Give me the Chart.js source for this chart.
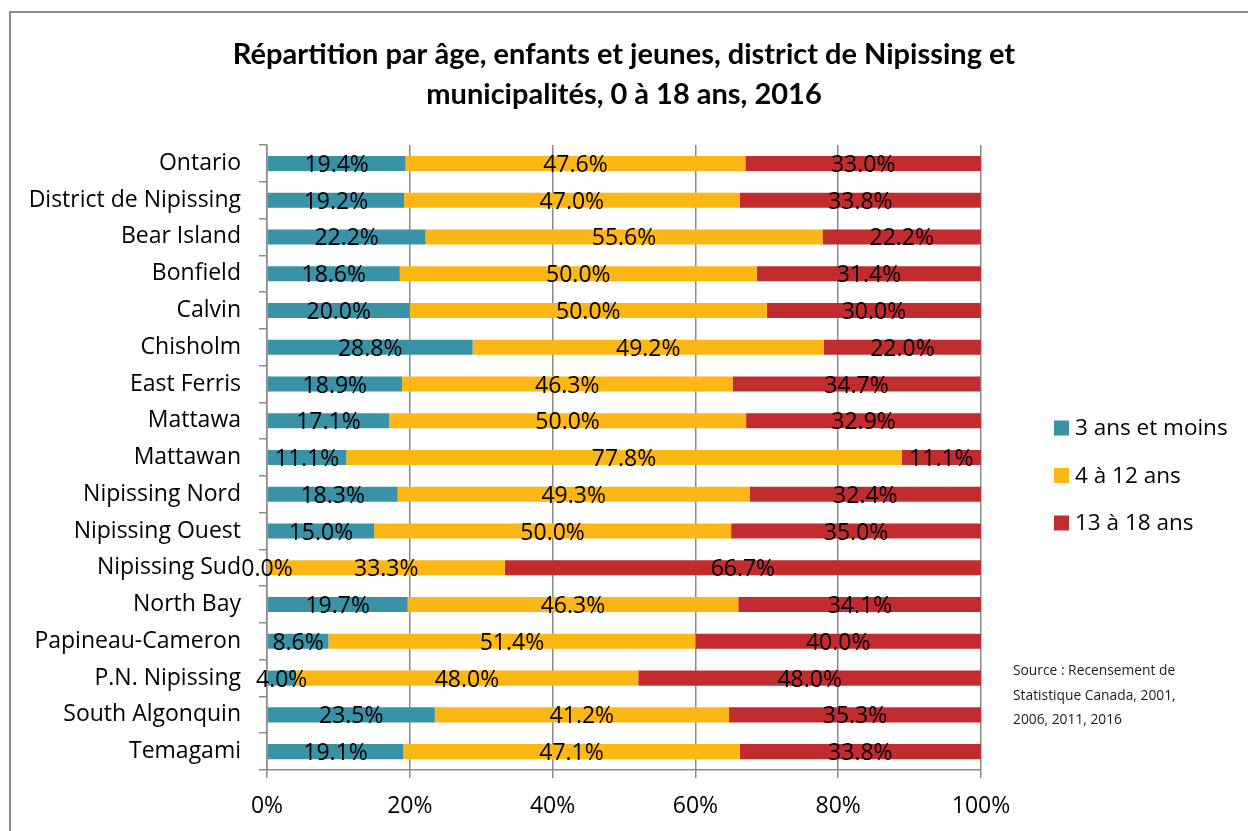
<!DOCTYPE html>
<html lang="fr">
<head>
<meta charset="utf-8">
<title>Répartition par âge, district de Nipissing</title>
<script src="https://cdn.jsdelivr.net/npm/chart.js@4/dist/chart.umd.min.js"></script>
<style>
  html, body { margin: 0; padding: 0; background: #fff; overflow: hidden; }
  #frame { position: absolute; left: 9px; top: 11px; width: 1400px; height: 1000px; border: 2px solid #8a8a8a; }
  #wrap { position: absolute; left: 0; top: 0; width: 1248px; height: 831px; }
  #source { position: absolute; left: 1013px; top: 658px; font: 13.8px "Open Sans", "Noto Sans", sans-serif; line-height: 24.5px; color: #1a1a1a; }
</style>
</head>
<body>
<div id="frame"></div>
<div id="wrap"><canvas id="chart" width="1248" height="831"></canvas></div>
<div id="source">Source : Recensement de<br>Statistique Canada, 2001,<br>2006, 2011, 2016</div>
<script>
  /* données (en %) */
  var categories = ['Ontario', 'District de Nipissing', 'Bear Island', 'Bonfield', 'Calvin', 'Chisholm',
    'East Ferris', 'Mattawa', 'Mattawan', 'Nipissing Nord', 'Nipissing Ouest', 'Nipissing Sud',
    'North Bay', 'Papineau-Cameron', 'P.N. Nipissing', 'South Algonquin', 'Temagami'];
  var seriesNames = ['3 ans et moins', '4 à 12 ans', '13 à 18 ans'];
  var ans0a3 = [19.4, 19.2, 22.2, 18.6, 20.0, 28.8, 18.9, 17.1, 11.1, 18.3, 15.0, 0.0, 19.7, 8.6, 4.0, 23.5, 19.1];
  var ans4a12 = [47.6, 47.0, 55.6, 50.0, 50.0, 49.2, 46.3, 50.0, 77.8, 49.3, 50.0, 33.3, 46.3, 51.4, 48.0, 41.2, 47.1];
  var ans13a18 = [33.0, 33.8, 22.2, 31.4, 30.0, 22.0, 34.7, 32.9, 11.1, 32.4, 35.0, 66.7, 34.1, 40.0, 48.0, 35.3, 33.8];
  var xTicks = [0, 20, 40, 60, 80, 100];

  var COLORS = ['#3a92a6', '#fdb714', '#c32c2f'];
  var FONT = '"Open Sans", "Noto Sans", sans-serif';
  var GRID = '#8a8a8a';

  /* étiquettes de valeur au centre de chaque segment */
  var valueLabels = {
    id: 'valueLabels',
    afterDatasetsDraw: function (chart) {
      var ctx = chart.ctx;
      ctx.save();
      ctx.font = '23px ' + FONT;
      ctx.fillStyle = '#000';
      ctx.textAlign = 'center';
      ctx.textBaseline = 'middle';
      chart.data.datasets.forEach(function (ds, i) {
        chart.getDatasetMeta(i).data.forEach(function (bar, j) {
          var x = (bar.x + bar.base) / 2;
          ctx.fillText(ds.data[j].toFixed(1) + '%', x, bar.y + 2);
        });
      });
      ctx.restore();
    }
  };

  /* légende à droite, comme dans Excel */
  var sideLegend = {
    id: 'sideLegend',
    afterDraw: function (chart) {
      var ctx = chart.ctx;
      ctx.save();
      ctx.font = '22.5px ' + FONT;
      ctx.textBaseline = 'middle';
      chart.data.datasets.forEach(function (ds, i) {
        var y = 428 + i * 47.5;
        ctx.fillStyle = ds.backgroundColor;
        ctx.fillRect(1054, y - 7.5, 15, 15);
        ctx.fillStyle = '#000';
        ctx.fillText(ds.label, 1075, y + 1);
      });
      ctx.restore();
    }
  };

  new Chart(document.getElementById('chart'), {
    type: 'bar',
    data: {
      labels: categories,
      datasets: [ans0a3, ans4a12, ans13a18].map(function (d, i) {
        return { label: seriesNames[i], data: d, backgroundColor: COLORS[i],
          barPercentage: 0.41, categoryPercentage: 1 };
      })
    },
    options: {
      indexAxis: 'y',
      responsive: false,
      animation: false,
      layout: { padding: { top: 0, left: 0, right: 0, bottom: 0 } },
      plugins: {
        legend: { display: false },
        tooltip: { enabled: false },
        title: {
          display: true,
          text: ['Répartition par âge, enfants et jeunes, district de Nipissing et', 'municipalités, 0 à 18 ans, 2016'],
          color: '#000',
          font: { family: 'Lato, "Noto Sans", sans-serif', size: 29, weight: 'bold', lineHeight: 1.38 },
          padding: { top: 35, bottom: 30 }
        }
      },
      scales: {
        x: {
          stacked: true, min: 0, max: 100,
          afterBuildTicks: function (s) { s.ticks = xTicks.map(function (v) { return { value: v }; }); },
          afterFit: function (s) { s.height = 61; },
          ticks: { color: '#000', font: { family: FONT, size: 23 }, padding: 15,
            callback: function (v) { return v + '%'; } },
          grid: { color: GRID, lineWidth: 1.5, tickLength: 8 },
          border: { color: GRID, width: 1.5 }
        },
        y: {
          stacked: true,
          afterFit: function (s) { s.width = 267; },
          ticks: { color: '#000', font: { family: FONT, size: 23 }, padding: 18 },
          grid: { offset: true, drawOnChartArea: false, color: GRID, lineWidth: 1.5, tickLength: 8 },
          border: { color: GRID, width: 1.5 }
        },
        /* réserve la place de la légende à droite */
        espace: {
          axis: 'y', type: 'linear', position: 'right',
          ticks: { display: false }, grid: { display: false }, border: { display: false },
          afterFit: function (s) { s.width = 267; }
        }
      }
    },
    plugins: [valueLabels, sideLegend]
  });
</script>
</body>
</html>
